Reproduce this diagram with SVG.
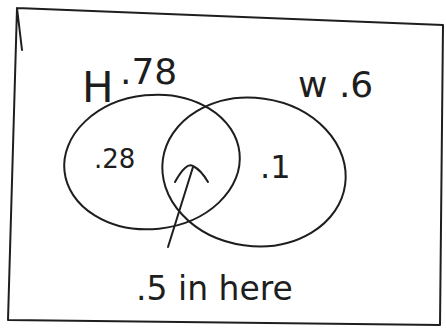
<svg xmlns="http://www.w3.org/2000/svg" width="446" height="329" viewBox="0 0 446 329">
<style>
.ink{fill:none;stroke:#1e1e1e;stroke-width:2;stroke-linecap:round;stroke-linejoin:round}
.t{font-family:"DejaVu Sans","Liberation Sans",sans-serif;fill:#1e1e1e;font-weight:normal}
</style>
<rect width="446" height="329" fill="#fff"/>
<g id="frame"><path class="ink" d="M17,8 L443,25 L440,325 L8,320 Z M17,8 L22,50"/></g>
<g id="setH">
<ellipse class="ink" cx="152" cy="162" rx="88" ry="67" transform="rotate(-6 152 162)"/>
<text class="t" x="82" y="102" font-size="42">H<tspan x="120" y="84" font-size="36">.78</tspan></text>
<text class="t" x="94" y="168" font-size="26">.28</text>
</g>
<g id="setW">
<ellipse class="ink" cx="254" cy="172" rx="92" ry="74" transform="rotate(8 254 172)"/>
<text class="t" x="298" y="97" font-size="36">w .6</text>
<text class="t" x="260" y="178" font-size="32">.1</text>
</g>
<g id="connectors">
<path class="ink" d="M168,247 L193,167"/>
<path class="ink" d="M175,182 Q186,162 193,166 Q201,170 208,182"/>
</g>
<g id="note"><text class="t" x="136" y="300" font-size="33">.5 in here</text></g>
</svg>
